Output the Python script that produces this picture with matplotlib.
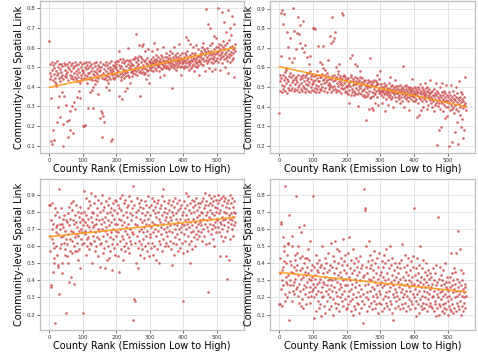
import numpy as np
import matplotlib
matplotlib.use("Agg")
import matplotlib.pyplot as plt

# ==============================
# data (index = county rank)
# top panels in thousandths, bottom panels in hundredths
# ==============================

x_label = "County Rank (Emission Low to High)"
y_label = "Community-level Spatial Link"
x_ticks = [0, 100, 200, 300, 400, 500]

top_left = """
635 472 441 518 342 121 453 526 488 108 178 437 509 464 496 128 447 521 425 412 402 481 529 221 458 503 298 469 514 352 443 492 248 428 517 451 476 372 507 462 097 439 212 523 351 484 455 511 308 466
448 225 516 473 142 502 437 232 489 527 275 459 182 512 443 478 521 302 455 496 438 162 506 471 323 449 524 288 483 441 509 427 466 346 518 452 492 428 381 474 342 418 528 445 501 461 487 433 514 469
201 478 519 446 198 503 462 203 527 441 489 418 512 456 495 293 469 438 524 472 451 508 372 483 447 516 435 383 498 466 292 401 521 459 481 437 412 505 476 449 528 428 464 491 362 443 511 479 457 502
488 242 524 459 276 501 142 443 268 517 471 251 438 493 222 462 509 447 527 398 481 456 513 434 421 497 468 382 522 452 486 442 503 475 531 121 458 491 132 446 512 478 439 505 463 528 449 494 472 518
502 461 529 488 456 534 478 582 513 352 467 497 542 451 437 508 526 338 472 491 458 541 483 519 447 381 532 469 504 487 453 538 392 477 515 598 462 496 529 448 418 507 536 473 489 521 455 513 482 544
512 471 541 488 463 552 497 668 526 479 548 504 462 537 493 518 612 474 556 352 501 483 553 468 527 608 489 544 476 618 512 531 466 497 582 538 471 523 492 438 549 478 515 487 592 461 533 505 421 528
521 498 542 487 513 582 528 502 551 519 481 538 509 622 531 497 522 561 488 543 512 529 591 503 518 552 478 532 508 541 451 523 497 562 528 489 551 518 602 512 538 501 529 462 521 553 508 571 497 532
532 508 551 497 543 519 562 489 528 581 512 549 521 502 538 572 392 531 508 553 518 601 497 542 529 561 512 488 552 521 538 502 573 529 509 551 618 521 542 499 562 531 508 461 548 522 541 572 503 529
521 553 498 538 572 529 508 561 652 519 542 502 583 528 641 551 509 532 487 562 521 618 538 498 552 571 529 508 602 541 518 561 482 549 531 507 573 542 519 612 501 552 528 591 512 558 539 462 531 568
552 528 581 562 518 603 542 571 621 509 548 592 531 562 478 583 539 798 571 522 598 551 529 718 582 561 498 542 612 573 702 549 528 581 481 562 623 541 572 519 592 551 658 532 568 492 601 648 539 578
572 549 603 528 802 581 562 618 541 592 488 569 612 551 782 578 521 602 559 631 542 732 591 568 502 612 549 681 578 529 622 558 792 589 472 568 641 552 603 528 702 579 561 662 538 608 762 571 592 549 722 598 448 581 618
"""

top_right = """
365 528 559 482 658 879 547 474 512 892 822 563 491 536 504 872 553 479 575 588 598 519 471 779 542 497 702 531 486 648 557 508 752 572 483 549 524 628 493 538 903 561 788 477 649 516 545 489 692 534
552 775 484 527 858 498 563 768 511 473 725 541 818 488 557 522 479 698 545 504 562 838 494 529 677 551 476 712 517 559 491 573 534 654 482 548 508 572 619 526 658 582 472 555 499 539 513 567 486 531
799 522 481 554 802 497 538 797 473 559 511 582 488 544 505 707 531 562 476 528 549 492 628 517 553 484 565 617 502 534 708 599 479 541 519 563 588 495 524 551 472 572 536 509 638 557 489 521 543 498
512 758 476 541 724 499 858 557 732 483 529 749 562 507 778 538 491 553 473 602 519 544 487 566 579 503 532 618 478 548 514 558 497 525 469 879 542 509 868 554 488 522 561 495 537 472 551 506 528 482
498 539 471 512 544 466 522 418 487 648 533 503 458 549 563 492 474 662 528 509 542 459 517 481 553 619 468 531 496 513 547 462 608 523 485 402 538 504 471 552 582 493 464 527 511 479 545 487 518 456
488 529 459 512 537 448 503 332 474 521 452 496 538 463 507 482 388 526 444 648 499 517 447 532 473 392 511 456 524 382 488 469 534 503 418 462 529 477 508 562 451 522 485 513 408 539 467 495 579 472
479 502 458 513 487 418 472 498 449 481 519 462 491 378 469 503 478 439 512 457 488 471 409 497 482 448 522 468 492 459 549 477 503 438 472 511 449 482 398 488 462 499 471 538 479 447 492 429 503 468
468 492 449 503 457 481 438 511 472 419 488 451 479 498 462 428 608 469 492 447 482 399 503 458 471 439 488 512 448 479 462 498 427 471 491 449 382 479 458 501 438 469 492 539 452 478 459 428 497 471
479 447 502 462 428 471 492 439 348 481 458 498 417 472 359 449 491 468 513 438 479 382 462 502 448 429 471 492 398 459 482 439 518 451 469 493 427 458 481 388 499 448 472 409 488 442 461 538 469 432
448 472 419 438 482 397 458 429 379 491 452 408 469 438 522 417 461 202 429 478 402 449 471 282 418 439 502 458 388 427 298 451 472 419 519 438 377 459 428 481 408 449 342 468 432 508 399 352 461 422
428 451 397 472 198 419 438 382 459 408 512 431 388 449 218 422 479 398 441 369 458 268 409 432 498 388 451 319 422 471 378 442 208 411 528 432 359 448 397 472 298 421 439 338 462 392 238 429 408 451 278 402 552 419 382
"""

bottom_left = """
84 57 66 84 37 36 75 70 85 64 73 62 45 50 59 53 82 78 15 68 71 60 55 72 80 49 48 67 93 32 77 70 59 73 65 61 82 50 44 73 76 66 71 62 78 58 69 55 75 64
21 61 74 54 67 50 79 39 72 83 64 57 76 85 69 42 63 81 56 75 68 86 38 73 60 65 57 78 84 67 74 57 71 62 80 52 66 77 69 58 74 83 47 70 64 79 61 76 68 72
21 75 92 62 80 69 74 67 88 55 78 64 60 72 82 76 65 58 71 86 62 84 69 77 61 91 74 50 80 66 71 79 63 85 72 57 89 68 76 60 73 82 65 78 54 70 87 64 75 69
61 80 48 73 85 62 76 70 90 56 81 66 74 59 83 69 47 77 63 86 71 52 79 67 84 60 75 53 88 72 65 80 57 74 68 82 61 78 46 70 85 64 76 59 81 73 55 87 69 66
86 73 61 79 54 84 68 76 45 82 70 63 88 58 75 81 66 72 90 52 78 64 85 60 74 69 87 57 80 71 62 83 67 77 59 84 73 65 89 56 79 70 63 86 75 61 82 68 78 95
67 17 84 29 28 73 62 80 50 77 66 88 72 59 81 47 69 85 63 76 55 83 70 61 87 74 58 79 68 64 82 53 75 71 86 60 78 66 84 73 57 80 69 89 62 76 54 83 72 67
78 65 84 71 59 88 74 62 81 68 55 86 73 60 79 70 83 52 77 66 85 72 58 80 69 87 63 76 50 82 74 61 84 71 67 89 57 78 73 93 64 80 70 86 60 75 82 68 77 62
79 71 66 85 74 60 81 69 87 63 77 72 58 84 75 49 80 68 86 62 78 73 55 83 70 65 88 76 61 79 72 67 85 57 74 81 70 64 87 76 59 82 71 68 84 73 62 78 56 28
80 72 67 86 75 63 82 91 70 78 57 84 73 66 89 76 61 81 71 50 85 74 68 79 63 87 72 58 83 76 69 86 65 80 74 60 84 71 67 88 77 64 81 73 85 69 78 66 83 75
74 85 68 80 72 86 63 79 76 88 70 82 66 84 73 91 61 78 86 71 80 75 33 84 69 90 77 62 85 73 81 67 88 76 70 84 79 64 86 72 89 60 78 83 74 71 87 68 80 75
82 76 90 71 85 79 68 87 74 81 54 88 73 66 84 77 70 89 75 63 86 80 72 65 88 76 54 83 79 69 85 41 74 87 71 78 52 82 76 64 90 73 85 79 70 88 75 66 83 77 80 72 86 74 79
"""

bottom_right = """
16 43 34 16 63 64 25 30 15 36 27 38 55 50 41 47 18 22 85 32 29 40 45 28 20 51 52 33 07 68 23 30 41 27 35 39 18 50 56 27 24 34 29 38 22 42 31 45 25 36
79 39 26 46 33 50 21 61 28 17 36 43 24 15 31 58 37 19 44 25 32 14 62 27 40 35 43 22 16 33 26 43 29 38 20 48 34 23 31 42 26 17 53 30 36 21 39 24 32 28
79 25 08 38 20 31 26 33 12 45 22 36 40 28 18 24 35 42 29 14 38 16 31 23 39 09 26 50 20 34 29 21 37 15 28 43 11 32 24 40 27 18 35 22 46 30 13 36 25 31
39 20 52 27 15 38 24 30 10 44 19 34 26 41 17 31 53 23 37 14 29 48 21 33 16 40 25 47 12 28 35 20 43 26 32 18 39 22 54 30 15 36 24 41 19 27 45 13 31 34
14 27 39 21 46 16 32 24 55 18 30 37 12 42 25 19 34 28 10 48 22 36 15 40 26 31 13 43 20 29 38 17 33 23 41 16 27 35 11 44 21 30 37 14 25 39 18 32 22 05
33 83 16 71 72 27 38 20 50 23 34 12 28 41 19 53 31 15 37 24 45 17 30 39 13 26 42 21 32 36 18 47 25 29 14 40 22 34 16 27 43 20 31 11 38 24 46 17 28 33
22 35 16 29 41 12 26 38 19 32 45 14 27 40 21 30 17 48 23 34 15 28 42 20 31 13 37 24 50 18 26 39 16 29 33 11 43 22 27 07 36 20 30 14 40 25 18 32 23 38
21 29 34 15 26 40 19 31 13 37 23 28 42 16 25 51 20 32 14 38 22 27 45 17 30 35 12 24 39 21 28 33 15 43 26 19 30 36 13 24 41 18 29 32 16 27 38 22 44 72
20 28 33 14 25 37 18 09 30 22 43 16 27 34 11 24 39 19 29 50 15 26 32 21 37 13 28 42 17 24 31 14 35 20 26 40 16 29 33 12 23 36 19 27 15 31 22 34 17 25
26 15 32 20 28 14 37 21 24 12 30 18 34 16 27 09 39 22 14 29 20 25 67 16 31 10 23 38 15 27 19 33 12 24 30 16 21 36 14 28 11 40 22 17 26 29 13 32 20 25
18 24 10 29 15 21 32 13 26 19 46 12 27 34 16 23 30 11 25 37 14 20 28 35 12 24 46 17 21 31 15 59 26 13 29 22 48 18 24 36 10 27 15 21 30 12 25 34 17 23 20 28 14 26 21
"""

panels = [top_left, top_right, bottom_left, bottom_right]
value_scale = [1000, 1000, 100, 100]

# ==============================
# figure
# ==============================

fig = plt.figure(figsize=(4.78, 3.56), dpi=100)

# [left, bottom, width, height] in figure fraction
boxes = [
    [0.084, 0.570, 0.427, 0.427],
    [0.565, 0.570, 0.429, 0.427],
    [0.084, 0.073, 0.427, 0.424],
    [0.565, 0.073, 0.429, 0.424],
]

for text, scale, box in zip(panels, value_scale, boxes):
    y = np.array(text.split(), dtype=float) / scale
    x = np.arange(len(y))

    ax = fig.add_axes(box)
    ax.set_axisbelow(True)
    ax.grid(True, color="#e3e3e3", linewidth=0.7)

    ax.scatter(x, y, s=3.5, color="#cf5555", alpha=0.9, linewidths=0, zorder=2)

    # linear trend
    k, b = np.polyfit(x, y, 1)
    ax.plot(x, k * x + b, color="#ff9a1a", linewidth=1.2, alpha=0.9, zorder=3)

    ax.set_xticks(x_ticks)
    ax.set_xlabel(x_label, fontsize=7, labelpad=1)
    ax.set_ylabel(y_label, fontsize=7, labelpad=2)
    ax.tick_params(labelsize=4, length=2, width=0.5, pad=1.5,
                   colors="#333333", labelcolor="#333333")
    for sp in ax.spines.values():
        sp.set_color("#bdbdbd")
        sp.set_linewidth(0.9)

fig.savefig("out.png", dpi=100)
